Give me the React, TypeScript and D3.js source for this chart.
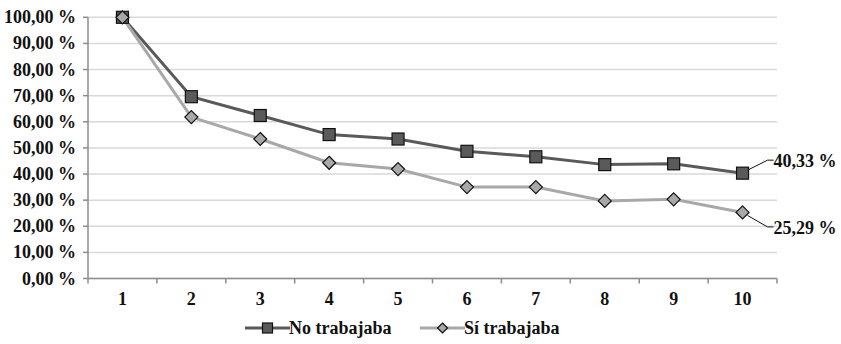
import React from "react";
import * as d3 from "d3";

const categories = ["1", "2", "3", "4", "5", "6", "7", "8", "9", "10"];
const noTrabajaba = [100, 69.6, 62.4, 55.1, 53.4, 48.7, 46.6, 43.6, 43.9, 40.33];
const siTrabajaba = [100, 61.8, 53.4, 44.3, 41.9, 35.0, 35.0, 29.7, 30.3, 25.29];
const yTicks = [0, 10, 20, 30, 40, 50, 60, 70, 80, 90, 100];
const seriesNames = ["No trabajaba", "Sí trabajaba"];

const W = 841, H = 344;
const left = 88, right = 777, top = 17.3, bottom = 278.5;
const font = "'Liberation Serif', 'Times New Roman', serif";
const darkC = "#5a5a5a";
const lightC = "#a8a8a8";
const fs = 18;

const fmt = (v: number) => v.toFixed(2).replace(".", ",") + " %";

export default function App() {
  const x = d3.scaleBand<string>().domain(categories).range([left, right]);
  const y = d3.scaleLinear().domain([0, 100]).range([bottom, top]);
  const cx = (c: string) => (x(c) as number) + x.bandwidth() / 2;
  const line = d3
    .line<number>()
    .x((_, i) => cx(categories[i]))
    .y((d) => y(d));

  const sq = 6;
  const dm = 6.5;
  const diamond = (px: number, py: number) =>
    `M${px},${py - dm}L${px + dm},${py}L${px},${py + dm}L${px - dm},${py}Z`;

  const lastI = categories.length - 1;
  const lx = cx(categories[lastI]);
  const ly1 = y(noTrabajaba[lastI]);
  const ly2 = y(siTrabajaba[lastI]);

  return (
    <svg width={W} height={H} style={{ position: "absolute", left: 0, top: 0, background: "#fff" }}>
      {/* gridlines */}
      {yTicks.map((t) => (
        <line key={"g" + t} x1={left} x2={right} y1={y(t)} y2={y(t)} stroke="#d9d9d9" strokeWidth={1.5} />
      ))}
      {/* y axis */}
      <line x1={left} x2={left} y1={top} y2={bottom} stroke="#8c8c8c" strokeWidth={1.5} />
      {yTicks.map((t) => (
        <g key={"yt" + t}>
          <line x1={left - 5} x2={left} y1={y(t)} y2={y(t)} stroke="#8c8c8c" strokeWidth={1.5} />
          <text x={76} y={y(t) + 6} textAnchor="end" fontFamily={font} fontWeight="bold" fontSize={fs} fill="#111">
            {fmt(t)}
          </text>
        </g>
      ))}
      {/* x axis */}
      <line x1={left} x2={right} y1={bottom} y2={bottom} stroke="#8c8c8c" strokeWidth={1.5} />
      {categories.map((c) => (
        <line key={"xt" + c} x1={x(c) as number} x2={x(c) as number} y1={bottom} y2={bottom + 5} stroke="#8c8c8c" strokeWidth={1.5} />
      ))}
      <line x1={right} x2={right} y1={bottom} y2={bottom + 5} stroke="#8c8c8c" strokeWidth={1.5} />
      {categories.map((c) => (
        <text key={"xl" + c} x={cx(c)} y={304.5} textAnchor="middle" fontFamily={font} fontWeight="bold" fontSize={fs} fill="#111">
          {c}
        </text>
      ))}

      {/* lines */}
      <path d={line(noTrabajaba) || ""} fill="none" stroke={darkC} strokeWidth={3} />
      <path d={line(siTrabajaba) || ""} fill="none" stroke={lightC} strokeWidth={3} />
      {noTrabajaba.map((v, i) => (
        <rect key={"m1" + i} x={cx(categories[i]) - sq} y={y(v) - sq} width={sq * 2} height={sq * 2} fill={darkC} stroke="#111" strokeWidth={1.2} />
      ))}
      {siTrabajaba.map((v, i) => (
        <path key={"m2" + i} d={diamond(cx(categories[i]), y(v))} fill={lightC} stroke="#111" strokeWidth={1.2} />
      ))}

      {/* data labels with leaders */}
      <polyline points={`${lx + 5},${ly1 - 3} ${lx + 25},${ly1 - 13} ${lx + 31},${ly1 - 13}`} fill="none" stroke="#111" strokeWidth={1} />
      <text x={lx + 31} y={ly1 - 6} fontFamily={font} fontWeight="bold" fontSize={fs} fill="#111">
        {fmt(noTrabajaba[lastI])}
      </text>
      <polyline points={`${lx + 5},${ly2 + 3} ${lx + 25},${ly2 + 14.5} ${lx + 31},${ly2 + 14.5}`} fill="none" stroke="#111" strokeWidth={1} />
      <text x={lx + 31} y={ly2 + 22} fontFamily={font} fontWeight="bold" fontSize={fs} fill="#111">
        {fmt(siTrabajaba[lastI])}
      </text>

      {/* legend */}
      <g>
        <line x1={245} x2={290} y1={328} y2={328} stroke={darkC} strokeWidth={3} />
        <rect x={267.5 - 5} y={328 - 5} width={10} height={10} fill={darkC} stroke="#111" strokeWidth={1.2} />
        <text x={289} y={334} fontFamily={font} fontWeight="bold" fontSize={fs} fill="#111">
          {seriesNames[0]}
        </text>
        <line x1={420} x2={465} y1={328} y2={328} stroke={lightC} strokeWidth={3} />
        <path d={`M442.5,323L447.5,328L442.5,333L437.5,328Z`} fill={lightC} stroke="#111" strokeWidth={1.2} />
        <text x={464} y={334} fontFamily={font} fontWeight="bold" fontSize={fs} fill="#111">
          {seriesNames[1]}
        </text>
      </g>
    </svg>
  );
}
